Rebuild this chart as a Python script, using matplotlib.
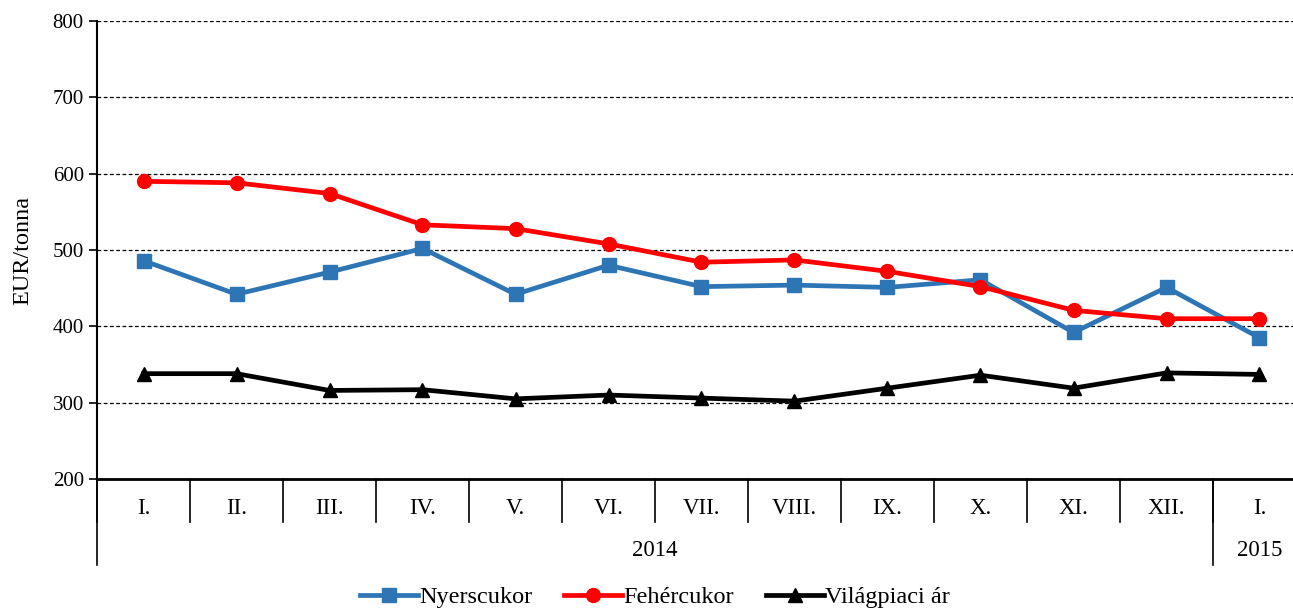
import matplotlib
matplotlib.use("Agg")
import matplotlib.pyplot as plt

# --- adatok ---
honapok = ['I.', 'II.', 'III.', 'IV.', 'V.', 'VI.', 'VII.', 'VIII.', 'IX.', 'X.', 'XI.', 'XII.', 'I.']
evek = ['2014', '2015']
ev_hossz = [12, 1]

nyerscukor = [486, 442, 471, 502, 442, 480, 452, 454, 451, 461, 392, 451, 385]
fehercukor = [590, 588, 574, 533, 528, 508, 484, 487, 472, 452, 421, 410, 410]
vilagpiaci = [338, 338, 316, 317, 305, 310, 306, 302, 319, 336, 319, 339, 337]

plt.rcParams['font.family'] = ['Liberation Serif', 'DejaVu Serif']
plt.rcParams['font.size'] = 15.5

fig = plt.figure(figsize=(12.93, 6.10), dpi=100)
ax = fig.add_axes([97 / 1293, 131 / 610, 1209 / 1293, 458 / 610])

x = list(range(len(honapok)))
ax.plot(x, nyerscukor, color='#2E75B6', lw=3.4, marker='s', ms=10, label='Nyerscukor')
ax.plot(x, fehercukor, color='#FF0000', lw=3.4, marker='o', ms=10, label='Fehércukor')
ax.plot(x, vilagpiaci, color='black', lw=3.4, marker='^', ms=10, label='Világpiaci ár')

ax.set_ylim(200, 800)
ax.set_xlim(-0.5, len(honapok) - 0.5)
ax.set_yticks(range(200, 801, 100))
ax.set_ylabel('EUR/tonna', labelpad=14, fontsize=17.5)
ax.yaxis.grid(True, linestyle=(0, (3, 2)), color='black', lw=0.9)
ax.set_axisbelow(True)

for s in ['top', 'right']:
    ax.spines[s].set_visible(False)
ax.spines['left'].set_linewidth(1.5)
ax.spines['bottom'].set_linewidth(2)
ax.tick_params(axis='y', direction='out', length=6, width=1.2, labelsize=15)
ax.set_xticks([])

# többszintű x tengely
tr = ax.get_xaxis_transform()
rovid = -43 / 458
hosszu = -86 / 458
for i in range(len(honapok) + 1):
    ax.plot([i - 0.5, i - 0.5], [0, rovid], color='black', lw=1.2, transform=tr, clip_on=False)
for i, h in enumerate(honapok):
    ax.text(i, -29 / 458, h, transform=tr, ha='center', va='center', fontsize=16.5)

kezdet = 0
for ev, n in zip(evek, ev_hossz):
    ax.plot([kezdet - 0.5, kezdet - 0.5], [0, hosszu], color='black', lw=1.2, transform=tr, clip_on=False)
    ax.text(kezdet + (n - 1) / 2, -72 / 458, ev, transform=tr, ha='center', va='center', fontsize=16.5)
    kezdet += n
ax.plot([kezdet - 0.5, kezdet - 0.5], [0, hosszu], color='black', lw=1.2, transform=tr, clip_on=False)

fig.legend(loc='lower center', bbox_to_anchor=(655 / 1293, -0.033), ncol=3, frameon=False,
           fontsize=17.5, handlelength=2.4, handletextpad=0.05, columnspacing=1.3)

fig.savefig('out.png', dpi=100)
